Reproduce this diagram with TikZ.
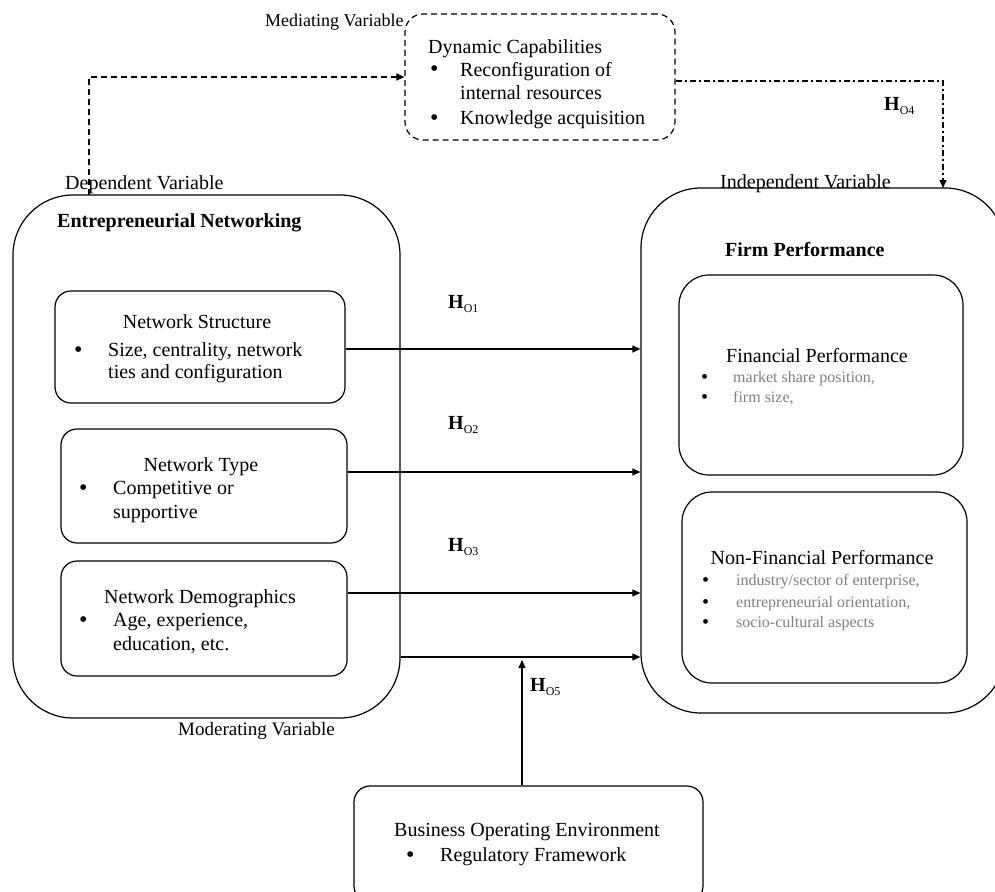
\documentclass[tikz,border=0pt]{standalone}
\usepackage{fontspec}
\setmainfont{Liberation Serif}
\usetikzlibrary{arrows.meta,calc}
\newcommand{\hyplab}[1]{\textbf{H}\raisebox{-0.5ex}{\fontsize{12}{12}\selectfont O#1}}
\begin{document}
\begin{tikzpicture}[x=1pt,y=-1pt,
  rbox/.style={draw,line width=1.2pt,rounded corners=#1,inner sep=0pt},
  txt/.style={anchor=base west,inner sep=0pt,font=\fontsize{20}{24}\selectfont},
  ctxt/.style={anchor=base,inner sep=0pt,font=\fontsize{20}{24}\selectfont},
  btxt/.style={anchor=base west,inner sep=0pt,font=\fontsize{20}{24}\selectfont\bfseries},
  gtxt/.style={anchor=base west,inner sep=0pt,font=\fontsize{16}{19}\selectfont,text=black!50},
  bul/.style={anchor=base west,inner sep=0pt,font=\fontsize{24}{26}\selectfont},
  sbul/.style={anchor=base west,inner sep=0pt,font=\fontsize{20}{22}\selectfont},
  arr/.style={line width=1.2pt,-{Triangle[length=8pt,width=7pt]}},
  dasharr/.style={arr,dash pattern=on 6pt off 4pt},
  dotdasharr/.style={arr,dash pattern=on 6pt off 3pt on 2pt off 3pt}]
\clip (0,0) rectangle (995,891);
\fill[white] (0,0) rectangle (995,891);

% boxes
\node[rbox=18pt,dash pattern=on 6pt off 4pt,minimum width=270pt,minimum height=126pt] (dyn) at (540,77) {};
\node[rbox=60pt,minimum width=387pt,minimum height=523pt] (lb) at (206.5,456.5) {};
\node[rbox=16pt,minimum width=290pt,minimum height=112pt] (ns) at (200,347) {};
\node[rbox=16pt,minimum width=286pt,minimum height=114pt] (nt) at (204,486) {};
\node[rbox=16pt,minimum width=286pt,minimum height=115pt] (nd) at (204,618.5) {};
\node[rbox=60pt,minimum width=364pt,minimum height=525pt] (rb) at (823,450.5) {};
\node[rbox=30pt,minimum width=284pt,minimum height=200pt] (fp) at (821,375) {};
\node[rbox=30pt,minimum width=285pt,minimum height=191pt] (nf) at (824.5,587.5) {};
\node[rbox=16pt,minimum width=349pt,minimum height=116pt] (be) at (528.5,844) {};

% coordinates
\coordinate (medstart) at (89,195);
\coordinate (h4start) at ($(dyn.east)+(0,4)$);
\coordinate (h4end) at (943,188);
\coordinate (a1) at ($(ns.east)+(0,2)$);
\coordinate (a2) at ($(nt.east)+(0,-14)$);
\coordinate (a3) at ($(nd.east)+(0,-25.5)$);
\coordinate (y657) at (0,657);
\coordinate (h5top) at (522,660);

% connectors
\draw[dasharr] (medstart) |- (dyn.west);
\draw[dotdasharr] (h4start) -| (h4end);
\draw[arr] (a1) -- (a1 -| rb.west);
\draw[arr] (a2) -- (a2 -| rb.west);
\draw[arr] (a3) -- (a3 -| rb.west);
\draw[arr] (lb.east |- y657) -- (rb.west |- y657);
\draw[arr] (be.north -| h5top) -- (h5top);

% labels
\node[txt,font=\fontsize{18}{20}\selectfont] (medlab) at (265,27) {Mediating Variable};
\node[txt] (dyntitle) at (428,53) {Dynamic Capabilities};
\node[bul] (db1) at (430,77) {•};
\node[txt] (dt1) at (460,76) {Reconfiguration of};
\node[txt] (dt2) at (460,99) {internal resources};
\node[bul] (db2) at (430,125) {•};
\node[txt] (dt3) at (460,124) {Knowledge acquisition};

\node[txt] (deplab) at (65,189) {Dependent Variable};
\node[txt] (indlab) at (720,188) {Independent Variable};
\node[btxt] (entlab) at (57,227) {Entrepreneurial Networking};

\node[ctxt] (nstitle) at (197,328) {Network Structure};
\node[bul] (nsb) at (74,357) {•};
\node[txt] (nst1) at (108,356) {Size, centrality, network};
\node[txt] (nst2) at (108,378) {ties and configuration};

\node[ctxt] (nttitle) at (201,471) {Network Type};
\node[bul] (ntb) at (79,495) {•};
\node[txt] (ntt1) at (113,494) {Competitive or};
\node[txt] (ntt2) at (113,518) {supportive};

\node[ctxt] (ndtitle) at (200,603) {Network Demographics};
\node[bul] (ndb) at (79,627) {•};
\node[txt] (ndt1) at (113,626) {Age, experience,};
\node[txt] (ndt2) at (113,650) {education, etc.};

\node[txt] (h1) at (448,308) {\hyplab{1}};
\node[txt] (h2) at (448,429) {\hyplab{2}};
\node[txt] (h3) at (448,551) {\hyplab{3}};
\node[txt] (h4) at (884,110) {\hyplab{4}};
\node[txt] (h5) at (530,691) {\hyplab{5}};

\node[btxt] (fptitle) at (725,256) {Firm Performance};
\node[ctxt] (fintitle) at (817,362) {Financial Performance};
\node[sbul] (fb1) at (701,383) {•};
\node[gtxt] (ft1) at (733,382) {market share position,};
\node[sbul] (fb2) at (701,403) {•};
\node[gtxt] (ft2) at (733,402) {firm size,};

\node[ctxt] (nftitle) at (822,564) {Non-Financial Performance};
\node[sbul] (nb1) at (702,586) {•};
\node[gtxt] (nt1) at (736,585) {industry/sector of enterprise,};
\node[sbul] (nb2) at (702,608) {•};
\node[gtxt] (nt2) at (736,607) {entrepreneurial orientation,};
\node[sbul] (nb3) at (702,628) {•};
\node[gtxt] (nt3) at (736,627) {socio-cultural aspects};

\node[txt,font=\fontsize{19}{22}\selectfont] (modlab) at (178,735) {Moderating Variable};
\node[ctxt] (betitle) at (527,836) {Business Operating Environment};
\node[bul] (beb) at (406,862) {•};
\node[txt] (bet1) at (440,861) {Regulatory Framework};
\end{tikzpicture}
\end{document}
